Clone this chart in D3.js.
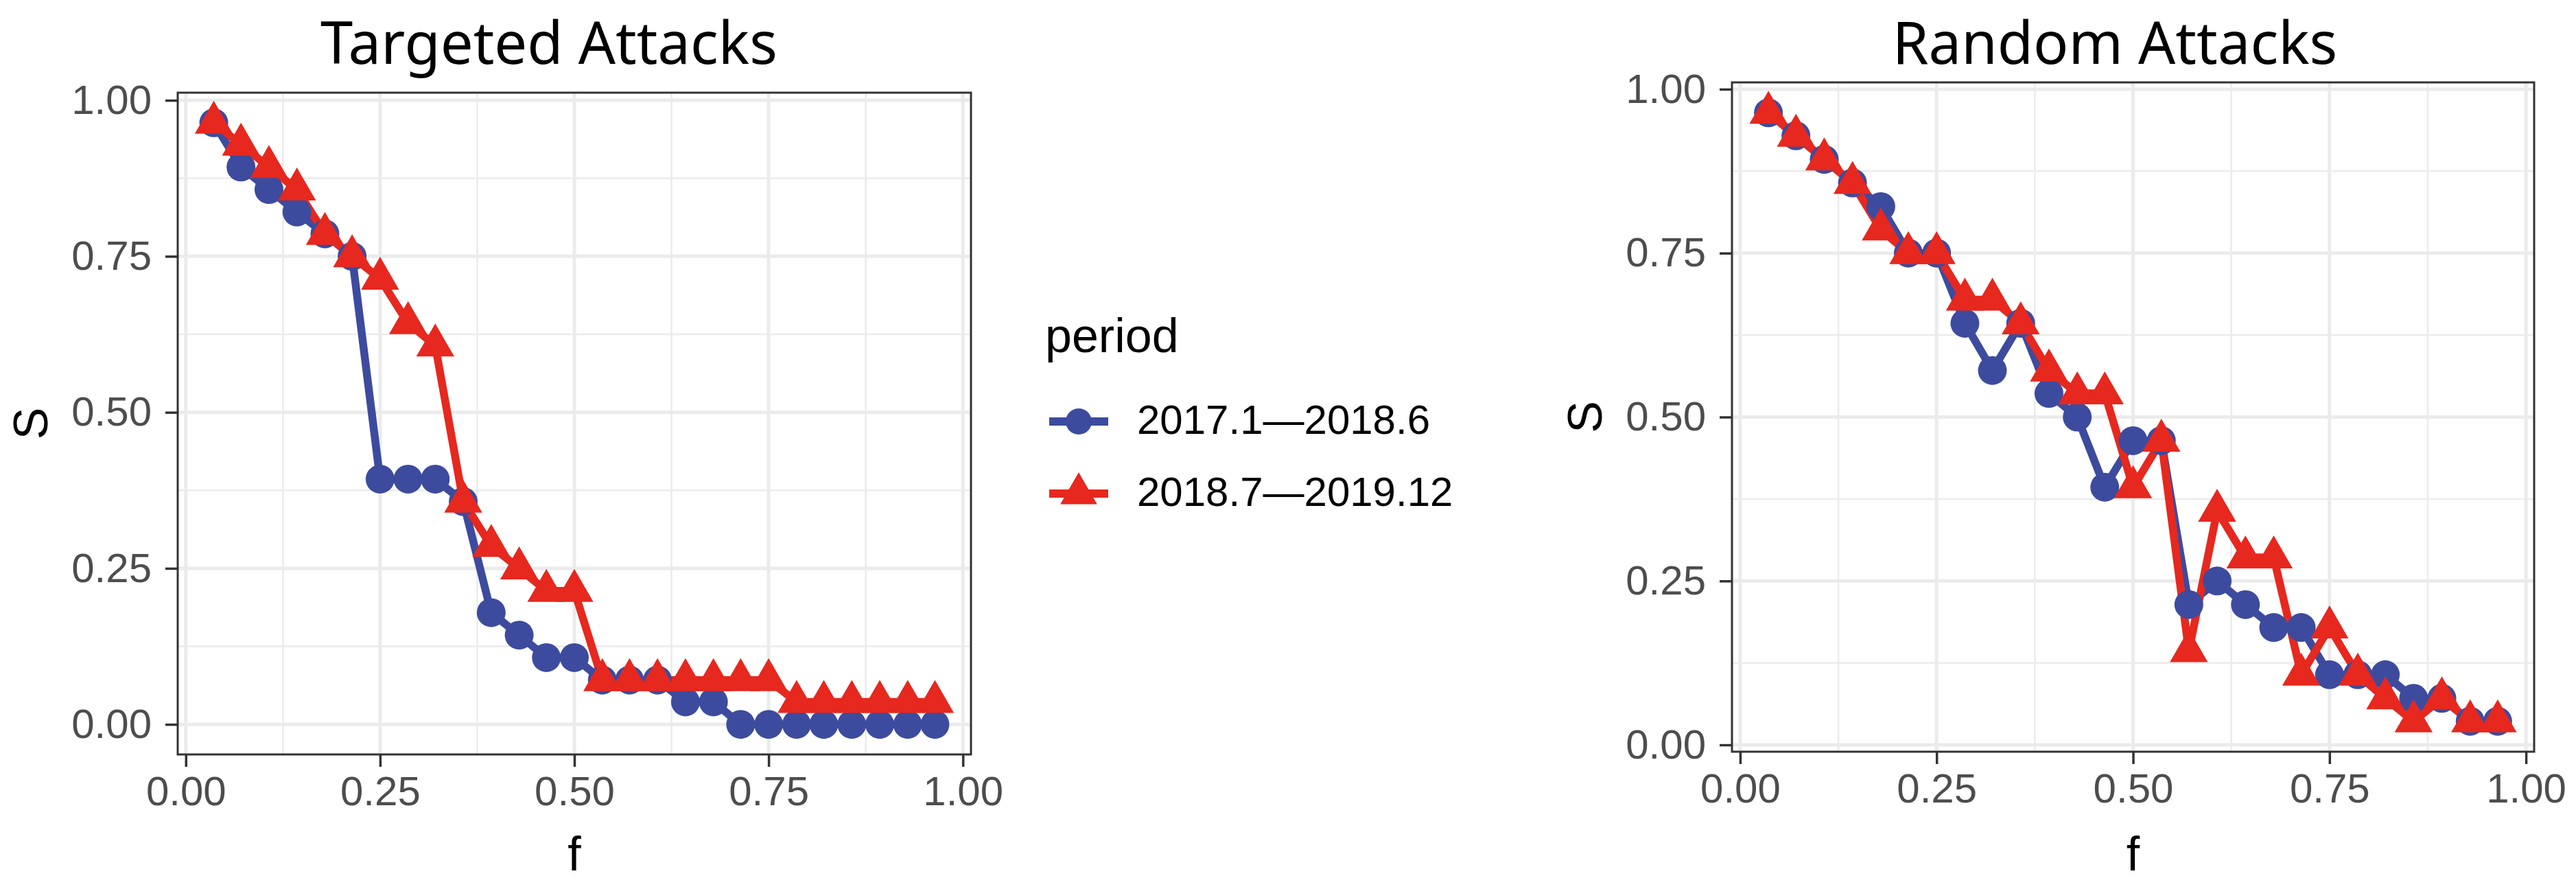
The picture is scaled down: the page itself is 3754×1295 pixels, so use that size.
<!DOCTYPE html>
<html>
<head>
<meta charset="utf-8">
<script src="https://cdn.jsdelivr.net/npm/d3@7"></script>
<style>
  body { margin: 0; background: #fff; }
  svg text { font-family: "Liberation Sans", Arial, sans-serif; }
  svg text.g-title { font-family: "Noto Sans", sans-serif; }
</style>
</head>
<body>
<svg id="chart" width="3754" height="1295"></svg>
<script>
// fraction of nodes removed
const fValues = [0.036, 0.071, 0.107, 0.143, 0.179, 0.214, 0.250, 0.286, 0.321, 0.357,
                 0.393, 0.429, 0.464, 0.500, 0.536, 0.571, 0.607, 0.643, 0.679, 0.714,
                 0.750, 0.786, 0.821, 0.857, 0.893, 0.929, 0.964];

// S, targeted attacks
const targetedEarly = [0.964, 0.893, 0.857, 0.821, 0.786, 0.750, 0.393, 0.393, 0.393, 0.357,
                       0.179, 0.143, 0.107, 0.107, 0.071, 0.071, 0.071, 0.036, 0.036, 0,
                       0, 0, 0, 0, 0, 0, 0];
const targetedLate = [0.964, 0.929, 0.893, 0.857, 0.786, 0.750, 0.714, 0.643, 0.607, 0.357,
                      0.286, 0.250, 0.214, 0.214, 0.071, 0.071, 0.071, 0.071, 0.071, 0.071,
                      0.071, 0.036, 0.036, 0.036, 0.036, 0.036, 0.036];

// S, random attacks
const randomEarly = [0.964, 0.929, 0.893, 0.857, 0.821, 0.750, 0.750, 0.643, 0.571, 0.643,
                     0.536, 0.500, 0.393, 0.464, 0.464, 0.214, 0.250, 0.214, 0.179, 0.179,
                     0.107, 0.107, 0.107, 0.071, 0.071, 0.036, 0.036];
const randomLate = [0.964, 0.929, 0.893, 0.857, 0.786, 0.750, 0.750, 0.679, 0.679, 0.643,
                    0.571, 0.536, 0.536, 0.393, 0.464, 0.143, 0.357, 0.286, 0.286, 0.107,
                    0.179, 0.107, 0.071, 0.036, 0.071, 0.036, 0.036];

const periods = ["2017.1—2018.6", "2018.7—2019.12"];
const panelTitles = ["Targeted Attacks", "Random Attacks"];
const majorTicks = [0, 0.25, 0.5, 0.75, 1];
const minorTicks = [0.125, 0.375, 0.625, 0.875];

const colors = ["#3d4b9e", "#e6281f"];
const shapes = [d3.symbolCircle, d3.symbolTriangle];

let svg = d3.select("#chart");

// ggplot style 5% padding around the data
function padded(vals) {
    let lo = d3.min(vals), hi = d3.max(vals), p = (hi - lo) * 0.05;
    return [lo - p, hi + p];
}

function symbolSize(shape, r) {
    // circle radius r, triangle apex at r above the centre
    return shape == d3.symbolCircle ? Math.PI * r * r : 3 * Math.sqrt(3) * (r / 2) * (r / 2);
}

function drawPanel(box, series, title, titleX) {
    let allS = series[0].concat(series[1]);
    let x = d3.scaleLinear().domain(padded(fValues)).range([box.x, box.x + box.w]);
    let y = d3.scaleLinear().domain(padded(allS)).range([box.y + box.h, box.y]);

    let g = svg.append("g");

    // grid
    let grid = g.append("g").style("stroke", "#ebebeb");
    minorTicks.forEach(function(t) {
        grid.append("line").attr("x1", box.x).attr("x2", box.x + box.w)
            .attr("y1", y(t)).attr("y2", y(t)).style("stroke-width", 2.5);
        grid.append("line").attr("y1", box.y).attr("y2", box.y + box.h)
            .attr("x1", x(t)).attr("x2", x(t)).style("stroke-width", 2.5);
    });
    majorTicks.forEach(function(t) {
        if (y(t) >= box.y && y(t) <= box.y + box.h)
            grid.append("line").attr("x1", box.x).attr("x2", box.x + box.w)
                .attr("y1", y(t)).attr("y2", y(t)).style("stroke-width", 5);
        grid.append("line").attr("y1", box.y).attr("y2", box.y + box.h)
            .attr("x1", x(t)).attr("x2", x(t)).style("stroke-width", 5);
    });

    // lines first, then points (same order as ggplot)
    let line = d3.line().x((d, i) => x(fValues[i])).y(d => y(d));
    series.forEach(function(s, si) {
        g.append("path").attr("d", line(s))
            .style("fill", "none").style("stroke", colors[si])
            .style("stroke-width", 11.5).style("stroke-linejoin", "round");
    });
    let radii = [21, 32];
    series.forEach(function(s, si) {
        let sym = d3.symbol().type(shapes[si]).size(symbolSize(shapes[si], radii[si]));
        g.selectAll(".pt" + si).data(s).enter().append("path")
            .attr("d", sym)
            .attr("transform", (d, i) => "translate(" + x(fValues[i]) + "," + y(d) + ")")
            .style("fill", colors[si]);
    });

    // border
    g.append("rect").attr("x", box.x).attr("y", box.y).attr("width", box.w).attr("height", box.h)
        .style("fill", "none").style("stroke", "#333").style("stroke-width", 3);

    // axes
    let fmt = d3.format(".2f");
    let ya = g.append("g").attr("transform", "translate(" + box.x + ",0)")
        .call(d3.axisLeft(y).tickValues(majorTicks).tickFormat(fmt).tickSize(18).tickPadding(20));
    let xa = g.append("g").attr("transform", "translate(0," + (box.y + box.h) + ")")
        .call(d3.axisBottom(x).tickValues(majorTicks).tickFormat(fmt).tickSize(18).tickPadding(13));
    [ya, xa].forEach(function(a) {
        a.select(".domain").remove();
        a.selectAll(".tick line").style("stroke", "#333").style("stroke-width", 3.5);
        a.selectAll(".tick text").style("fill", "#4d4d4d").style("font-size", "60px")
            .style("font-family", "'Liberation Sans', Arial, sans-serif");
    });

    // axis titles
    g.append("text").text("f")
        .attr("x", box.x + box.w / 2).attr("y", 1268)
        .style("text-anchor", "middle").style("font-size", "70px");
    g.append("text").text("S")
        .attr("transform", "translate(" + (box.x - 190) + "," + (box.y + box.h / 2) + ") rotate(-90)")
        .style("text-anchor", "middle").style("font-size", "70px");

    g.append("text").attr("class", "g-title").text(title)
        .attr("x", titleX).attr("y", 93)
        .style("text-anchor", "middle").style("font-size", "85px").style("fill", "#000");
}

drawPanel({x: 259, y: 135, w: 1156, h: 964}, [targetedEarly, targetedLate], panelTitles[0], 800);
drawPanel({x: 2524, y: 120, w: 1169, h: 975}, [randomEarly, randomLate], panelTitles[1], 3082);

// legend
let leg = svg.append("g").attr("transform", "translate(1523,0)");
leg.append("text").text("period").attr("x", 0).attr("y", 513).style("font-size", "70px");
let legY = [614, 719];
let legR = [19, 31];
periods.forEach(function(p, i) {
    let k = leg.append("g").attr("transform", "translate(49," + legY[i] + ")");
    k.append("line").attr("x1", -43).attr("x2", 43)
        .style("stroke", colors[i]).style("stroke-width", 12);
    k.append("path").attr("d", d3.symbol().type(shapes[i]).size(symbolSize(shapes[i], legR[i])))
        .style("fill", colors[i]);
    leg.append("text").text(p).attr("x", 134).attr("y", legY[i] + 18).style("font-size", "60px");
});
</script>
</body>
</html>
